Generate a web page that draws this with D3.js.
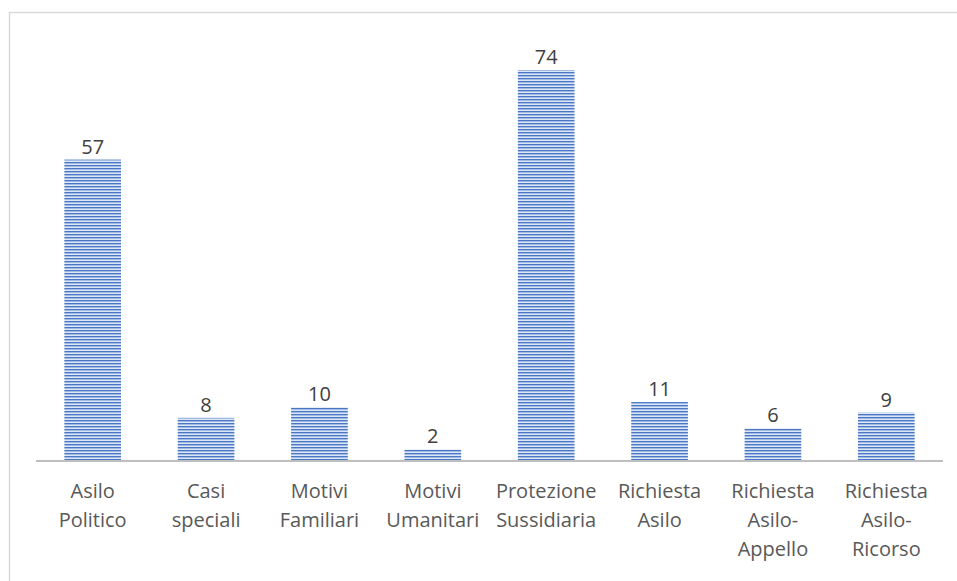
<!DOCTYPE html>
<html>
<head>
<meta charset="utf-8">
<script src="https://cdn.jsdelivr.net/npm/d3@7"></script>
<style>
  body { margin: 0; background: #fff; }
  text { font-family: "Open Sans", "Noto Sans", sans-serif; fill: #595959; }
</style>
</head>
<body>
<div id="chart"></div>
<script>
// data
var categories = [
  ['Asilo', 'Politico'],
  ['Casi', 'speciali'],
  ['Motivi', 'Familiari'],
  ['Motivi', 'Umanitari'],
  ['Protezione', 'Sussidiaria'],
  ['Richiesta', 'Asilo'],
  ['Richiesta', 'Asilo-', 'Appello'],
  ['Richiesta', 'Asilo-', 'Ricorso']
];
var values = [57, 8, 10, 2, 74, 11, 6, 9];

var w = 957, h = 581;
var left = 36, right = 943, base = 460;

var svg = d3.select('#chart').append('svg')
  .attr('width', w)
  .attr('height', h);

/* stripe pattern */
var pat = svg.append('defs').append('pattern')
  .attr('id', 'stripes')
  .attr('patternUnits', 'userSpaceOnUse')
  .attr('width', 8)
  .attr('height', 3);
pat.append('rect').attr('width', 8).attr('height', 3).attr('fill', '#dce6f4');
pat.append('rect').attr('width', 8).attr('height', 1.4).attr('fill', '#4a78c6');

/* border */
svg.append('path')
  .attr('d', 'M9.5,' + h + 'V12.5H' + w)
  .attr('fill', 'none')
  .attr('stroke', '#d9d9d9')
  .attr('stroke-width', 1.5);

var x = d3.scaleBand()
  .domain(d3.range(values.length))
  .range([left, right])
  .paddingInner(0.5)
  .paddingOuter(0.25);

var y = d3.scaleLinear()
  .domain([0, 74])
  .range([base, 70]);

/* bars */
svg.selectAll('rect.bar')
  .data(values)
  .enter()
  .append('rect')
  .attr('class', 'bar')
  .attr('x', function (d, i) { return x(i); })
  .attr('y', function (d) { return y(d); })
  .attr('width', x.bandwidth())
  .attr('height', function (d) { return base - y(d); })
  .attr('fill', 'url(#stripes)');

/* value labels */
svg.selectAll('text.val')
  .data(values)
  .enter()
  .append('text')
  .attr('class', 'val')
  .text(function (d) { return d; })
  .attr('x', function (d, i) { return x(i) + x.bandwidth() / 2; })
  .attr('y', function (d) { return y(d) - 6; })
  .attr('text-anchor', 'middle')
  .attr('font-size', '20px')
  .style('fill', '#404040');

/* axis line */
svg.append('line')
  .attr('x1', left)
  .attr('x2', right)
  .attr('y1', base + 1)
  .attr('y2', base + 1)
  .attr('stroke', '#bfbfbf')
  .attr('stroke-width', 2);

/* category labels */
var cat = svg.selectAll('text.cat')
  .data(categories)
  .enter()
  .append('text')
  .attr('class', 'cat')
  .attr('text-anchor', 'middle')
  .attr('font-size', '20px');

cat.selectAll('tspan')
  .data(function (d, i) { return d.map(function (s) { return { s: s, i: i }; }); })
  .enter()
  .append('tspan')
  .attr('x', function (d) { return x(d.i) + x.bandwidth() / 2; })
  .attr('y', function (d, j) { return 498 + j * 29; })
  .text(function (d) { return d.s; });
</script>
</body>
</html>
